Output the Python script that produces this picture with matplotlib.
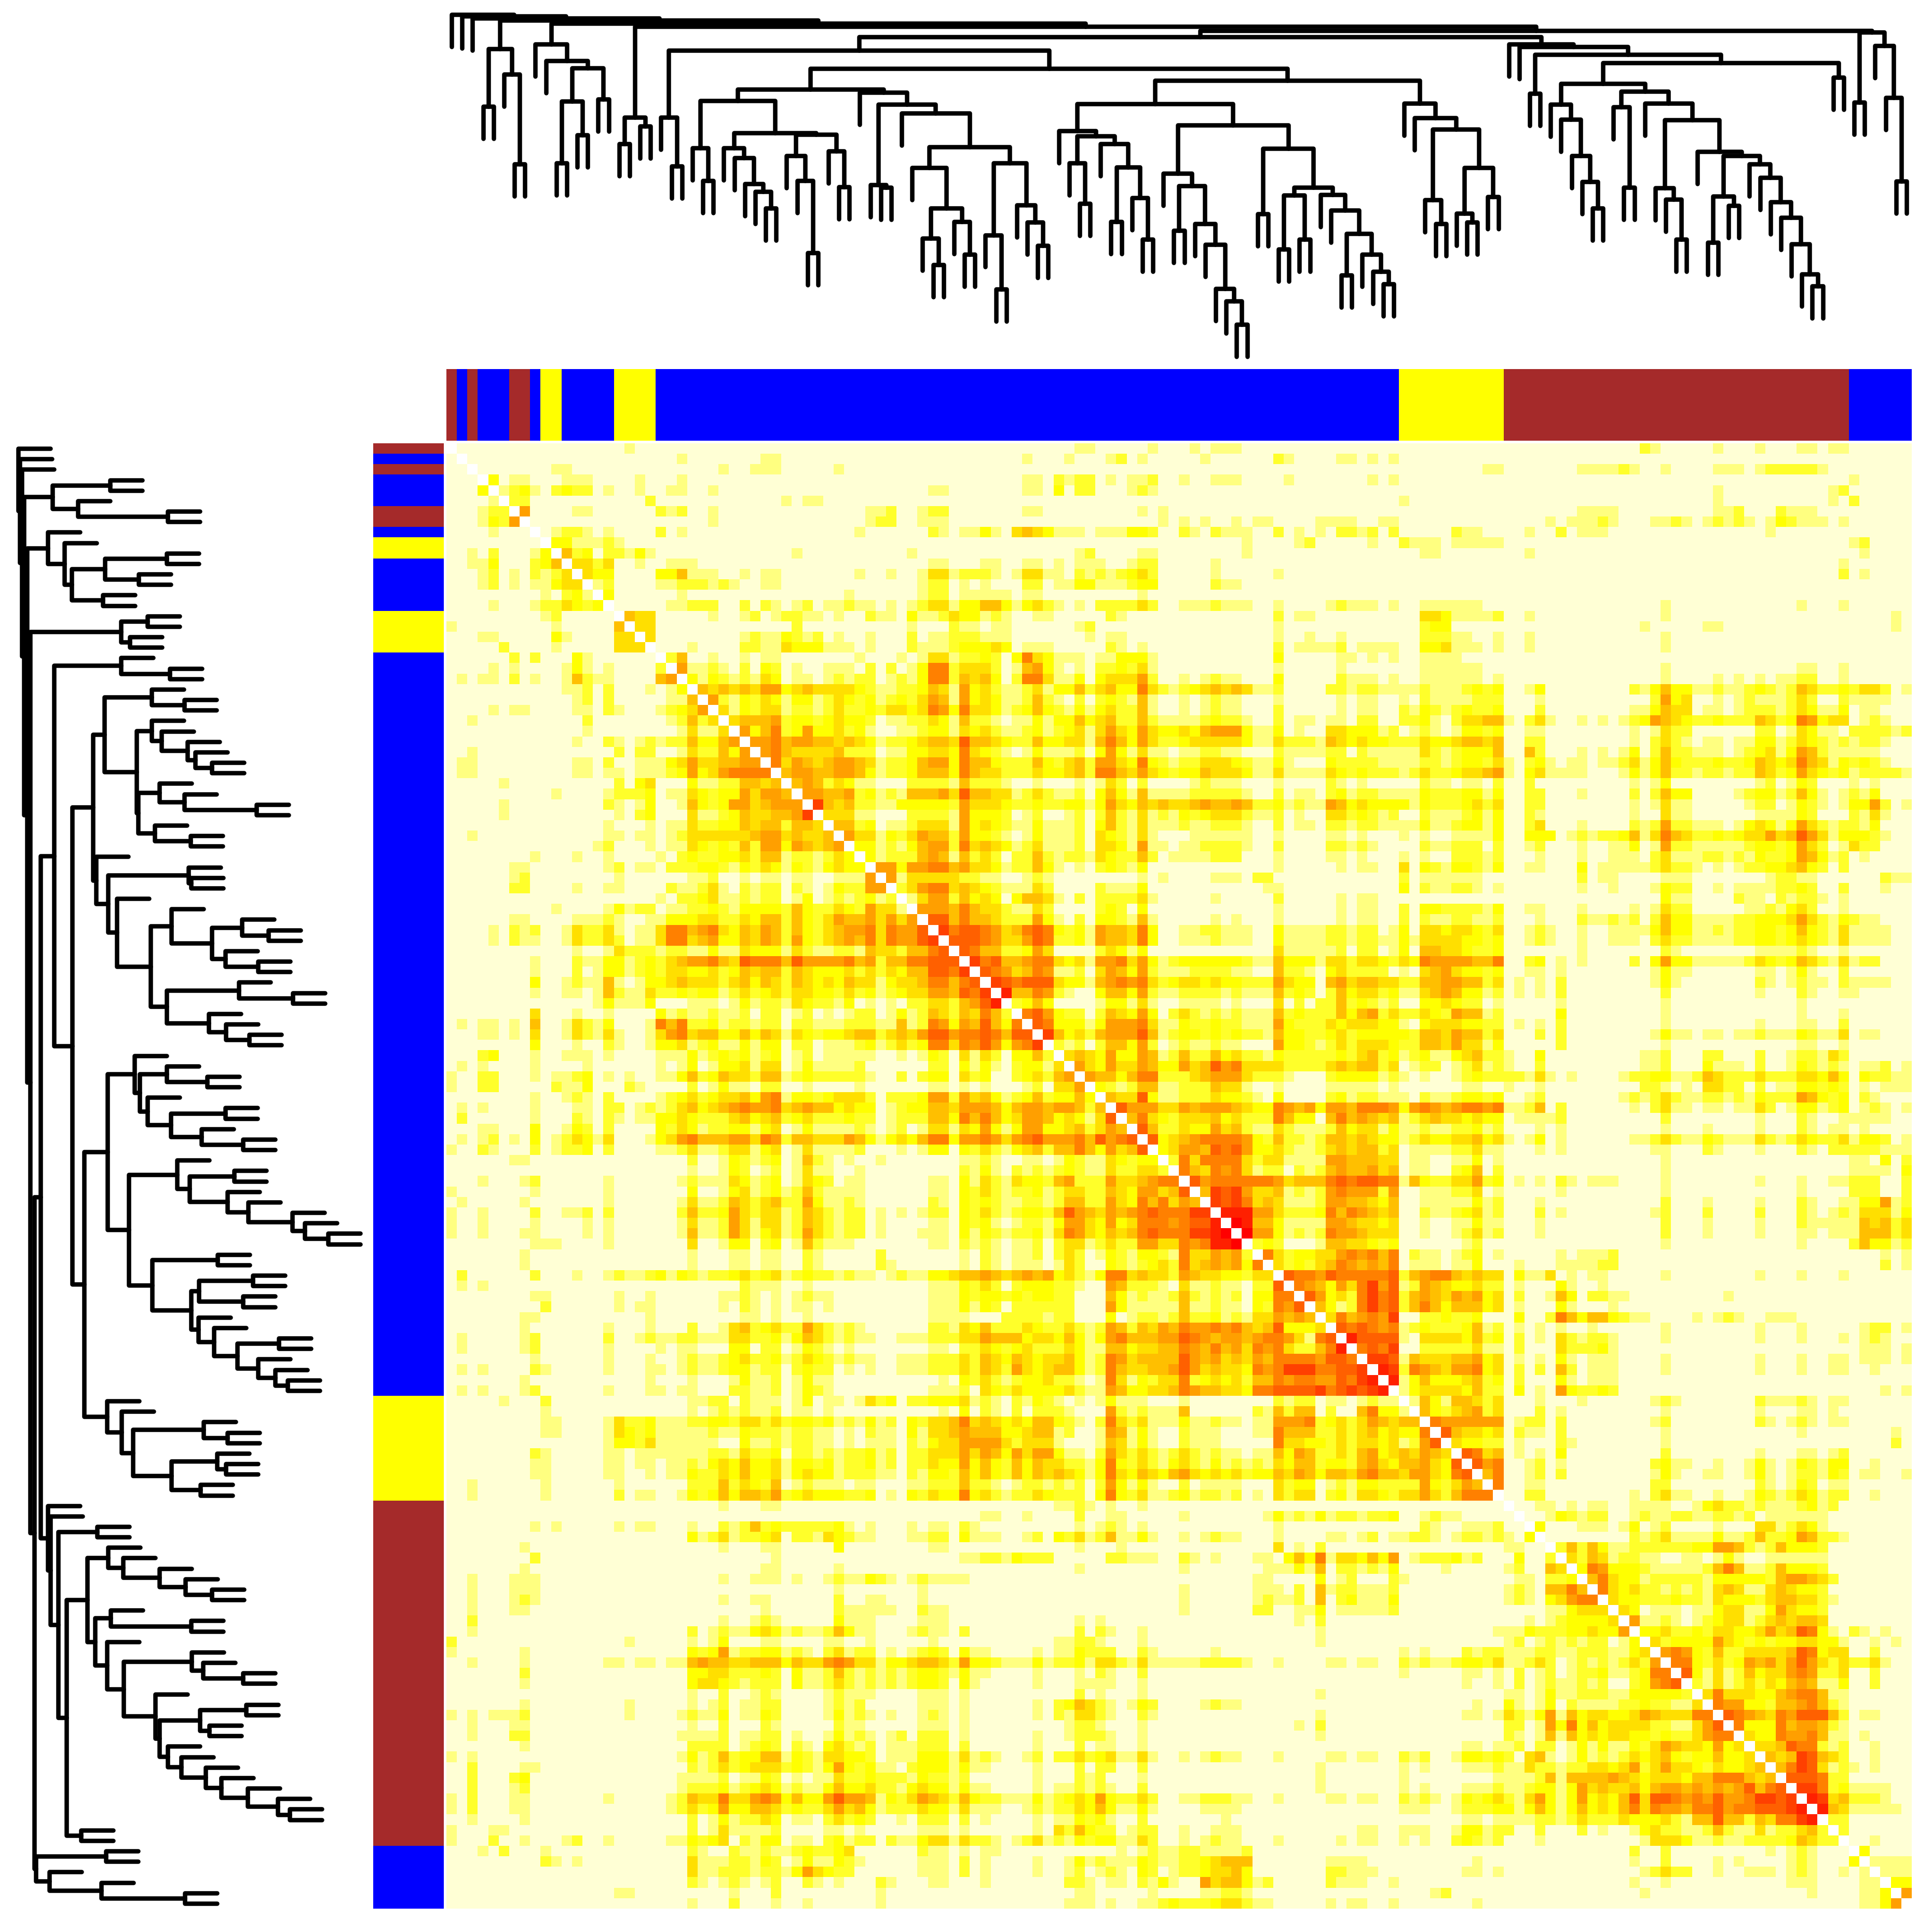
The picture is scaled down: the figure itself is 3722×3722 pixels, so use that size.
import numpy as np
import matplotlib
matplotlib.use("Agg")
import matplotlib.pyplot as plt
from matplotlib.colors import ListedColormap, BoundaryNorm

SIZE = 3723.0
N = 140

# colour levels of the heat map (0 = lowest .. b = highest); diagonal is blank
level_colors = ["#FFFFD5", "#FFFF80", "#FFFF2A", "#FFFF00", "#FFDF00", "#FFBF00",
                "#FF9F00", "#FF8000", "#FF6000", "#FF4000", "#FF2000", "#FF0000"]

# side annotation: runs of samples in leaf order
group_names = ["brown", "blue", "brown", "blue", "brown", "blue", "yellow", "blue",
               "yellow", "blue", "yellow", "brown", "blue"]
group_sizes = [1, 1, 1, 3, 2, 1, 2, 5, 4, 71, 10, 33, 6]

# dendrogram: (depth, left, right); 0 is a leaf
L = 0
A = (165, (358, L, L), (250, L, (552, L, L)))
B = (150, L, (205, L, (230, (342, (548, L, L), (455, L, L)), (335, L, L))))
C = (395, (485, L, L), (425, L, L))
mid1 = (395, L, (560, L, L))
m_a = (498, L, (608, L, L))
m_b = (498, L, (532, L, (618, L, (645, L, (700, L, L)))))
m_c = (525, L, (608, L, (850, L, L)))
m_d = (508, L, (628, L, L))
m1 = (340, m_a, (447, m_b, (453, m_c, m_d)))
n700 = (700, (802, L, (890, L, L)), (745, L, (855, L, L)))
n548 = (548, (790, L, (972, L, L)), (690, L, (747, L, (825, L, L))))
n495 = (495, (565, L, n700), n548)
n352 = (352, (622, L, (630, L, L)), (382, L, n495))
n302 = (302, m1, (312, L, n352))
n440 = (440, L, (458, (548, L, (685, L, L)),
                 (485, L, (562, (745, L, L), (665, L, (805, L, L))))))
n583 = (583, L, (625, (775, L, L), (752, L, (822, L, (970, L, (1012, L, (1090, L, L)))))))
n500 = (500, (720, L, L),
        (630, (657, (838, L, L), (805, L, L)),
         (655, L, (708, L, (785, (925, L, L), (855, L, (912, L, (955, L, L))))))))
n350 = (350, n440, (422, n583, n500))
n348 = (348, L, (398, L, (435, (672, L, (752, L, L)),
                          (565, (718, L, (748, L, L)), (662, L, L)))))
n170 = (170, mid1, (232, n302, (272, n350, n348)))
b105 = (352, L, (402, L, (525, L, (612, L, (700, L, L)))))
b111 = (360, L, (630, L, L))
n525 = (525, (660, (815, L, L), (692, L, L)),
        (552, L, (598, L, (680, L, (732, L, (820, L, (922, L, (962, L, L))))))))
n405 = (405, (632, L, (670, L, (805, L, L))), (510, L, n525))
n282 = (282, b105, (308, b111, (348, L, n405)))
n150 = (150, L, (158, L, (185, (315, L, L), (212, n282, (262, L, L)))))
n8 = (125, n170, n150)
n9 = (110, (345, L, L), (155, L, (330, L, (610, L, L))))
tree = (50, L, (55, L, (63, L, (70, A, (80, B, (90, C, (105, n8, n9)))))))
leaf_hang = 108

# upper triangle of the matrix; each row starts right of the diagonal and is
# grouped on decades of the column number; "_" is a decade of level 0
rows = """
000000000 0000000100 _ _ _ _ 1100000100 0101110000 _ _ _ 0000210000 0100010001 1011
00000000 _ 0010000000 1100000000 _ 0000010001 0001201000 0010000002 1000011010 1
0000000 1100000000 0000001001 1100000100 _ _ _ _ _ 0000000001 1000000011 1121001000 0111012222 21
301100 0111000010 0010000000 _ _ 0000011021 2201011200 1001110000 1000000010 1 _ _ _ 0000100000
12310 2322010010 0110010000 _ 0000001100 0000011030 2200012100 _ _ _ _ _ 0100000000 0012
2200 0000000002 _ 0010110000 _ _ _ _ _ 01 _ _ 01 0010200
600 0011000000 2120010000 _ 1120012200 0000011000 0000001010 _ _ _ 0000000011 11 0112000211 1
00 _ 0000010000 _ 1220011100 _ 0000000010 1010010110 0001111001 1 0000010111 2100011210 1212101321 1101
0 1221010000 2010000000 0000000001 0000002101 1310454311 1011133200 2102111002 0101022120 2000002110 0001002011 1 0000001
3311121000 _ _ _ _ _ 0000001000 0120000010 0211101111 1 _ _ 0000120
523022131 _ 0001 00001 _ 1200001100 0000001 _ 0001100000 0001 _ _ 0000010
44240010 0111000000 _ 0000001100 0110011010 1110012200 0001 _ _ _ _ _ 0001
4330000 3351110010 1100000001 0010014412 2210144110 2121234200 0001000001 _ _ _ _ _ 0002010
120000 1122212100 11 0000012201 0100022011 3311123300 0002110000
30000 0010 0000000010 0000012201 1111011000 0000001
0000 0112220020 2101201121 1010124413 3553134210 1022224200 1112111001 0000121110 1001111110 _ 0000001 0000000001 0001
544 0000010012 0122110100 2110311243 3121001100 0002100000 0000000002 011 0004431111 2001000000 0000001 _ 000000001
44 _ 0002 0000100021 1011 12 0000000001 _ 0002330000 _ 00001 11 000000001
4 0000000012 1132120100 1000201122 2111 0101100000 0000000001 0010010000 0002221100 1001000000 0000001
0001000022 1143331110 1000211123 3343011100 0002101000 0000000002 0111120111 1003341110 1001 0000001
250010010 1100000001 0001014412 2320374311 1011333100 0000000003 0000011010 1001111000
61121020 3201001110 2020137724 4420156310 1022324100 0000000001 0000010 0001111110 _ 0000001 0000000001 1001
3132121 4301101212 2012137725 4530277411 3034446200 1012110003 0000021110 1001111110 1 0000001 0101010112 2001
545454 6634544443 2112235416 3421124133 5245337421 2345454112 0000221221 1112111232 3001300000 0002135331 1211232125 4223244201
62132 4313312432 3123246516 3431125210 2023215100 1012110001 0000010110 0102111122 2000100000 0000026340 0101211124 2002111100
4132 4412212422 3244347637 4431235321 3134225100 1012110002 0000010110 0213212322 3000200000 0001135440 1101222124 3113011
455 5623323433 2011224315 2210113133 5345225211 1123221002 0110110220 0223102445 5102410010 1012365432 2322254237 6344012100
63 5723633423 1001123314 3421123123 4146436433 4356663113 0100443331 2012101332 3001100000 0001014220 0000022014 3110222212
6 6756655454 3122345548 5543225334 4157536422 3444443114 2221543433 2224334554 5002200000 0001024210 1101133124 3212122100
6754444522 2011334437 4321013111 2036314110 1122110002 1111220211 1114212333 5005200010 1013025221 1101234136 5211111
746545665 4122356637 5532225324 5266437321 2244432113 1000322221 1112212332 4102310110 1124135322 2322354347 5413232100
56655665 3122355537 5442224334 5277546432 3354443114 1111432322 2124223445 6103411110 0013135221 2212254236 4323122221
5652431 1000222215 2221001000 1014202000 0121110001 0000210100 0002110110 2002 0001013000 0000012013 2000101
665562 3121555648 5544124211 2035315111 1222221002 0110231221 1113222331 3002200010 0002025330 0001233125 3101213
95452 2113333326 4443223223 3136435454 4565565223 1211653433 3313222342 4002200000 0001014110 0000122013 2101336201
4441 1000222216 3332012001 2025214121 3234442112 0100442321 2002111231 3002100000 0001004110 0000011113 2000214100
552 3011244416 3432113111 2035214111 2112221002 0110221221 1113112331 3002400010 0002126221 1101343136 4212213
64 4132465526 3321013111 2043214100 0111111001 0000110100 0101001111 3003330121 2235147542 2323446458 6413332100
3 3121356627 4543124111 2044316110 1122221002 0000221210 0002112220 2001200010 0113016221 1111233236 4201422
3122256515 2420225212 2143225201 1112220001 0000110100 0101002221 2000100010 0111024111 2212132236 5312010
663667756 4431225310 1023213000 0000000001 0000010110 0403213321 3001100030 1111124221 0101223345 3202
61444442 2110012100 0000001010 0001110220 _ 0201111110 0000000020 1100001110 0000001221 1000000211
2467745 4321114200 0021113000 0000000011 _ 0302112210 1000000010 0100013220 0101111223 2002000100
146625 3430355410 2022224100 0001000002 0000010110 _ _ 0000003110 0002110212 2101
66657 5442114200 0023203000 0000000001 0000010110 0203322221 3001100010 0001014220 0000112134 2001
8857 5542226310 2033215100 0001010001 0000010110 0202112211 2000100021 1212025331 1112233346 4213211
978 8764578732 3165547300 1122111003 1111221220 1304434432 4001210010 0111135331 1212233235 3214111100
88 8764468722 3165547300 1112111003 1111221221 1314444332 3001210010 0111024221 1112233234 3214111100
8 7552236400 0024313000 0000000004 1111120220 1305544322 3000000010 0000002100 0000011112 1001
9785567743 4166746312 3333332115 3331442443 2437666655 7002301010 0002036331 1111243235 4214122
876457611 2046536211 1222211005 2210342222 0104564332 3001101000 0000013110 0000011013 1002
98788843 3156767423 4434332226 4330564554 4225566552 4010102000 0000013100 0000021012 1102111100
a557621 0035536211 2222121115 2320253442 3114565331 2010102000 0000002 0000010002 1001100
235300 0013314100 1111010004 0202252321 2003343220 1000001000 0000001 0000000001
78632 2025436302 4212121115 2322253562 4224326551 2000003000 0000001 0000000001 0001
8733 3136667411 3223221116 3222434443 3103444332 2010102000 0000001 0000010001 1002
953 4256668512 3323232215 3322342333 3325546552 4000202000 0000013110 1101121113 2114011
21 2025536201 2112110006 3321242444 3225546441 3000002 0000001 0000000001 1001
4 5436336512 5225342213 2222232452 3123113452 2100300000 0000112000 2200020012 2142
6436446533 6458674444 2222454552 4012201241 2100200000 0000112000 3111020013 2121011201
655357722 2456664222 1000233331 2101001232 2221410100 0012233112 5422242224 4353032211
32125511 2225441001 0000111110 1000000110 0100100000 0000221010 4422020113 3232010111
5448311 2224332103 0000231221 1102112332 3001200000 0012124211 2212132226 5323021
866644 6566654337 6563665777 6367656776 7112502000 0001024110 1101142013 3123012101
57432 4445342227 5330575654 5124544343 3011112000 0000002 0000010002 1001111100
8522 4336452114 2111253441 3112112231 2000101000 0000001 1000010002 1011010
834 5677776325 2212554543 3124334453 4101301000 0001124211 3211142124 3224133201
34 6658786334 2112454552 4011112241 1000101000 0000011 2100010002 1022222111
2 7477774244 1111665554 4011001130 1000000000 0000001 _ 0000110302
7547674122 0212565564 5011002350 2 0000001 _ 0000111103
867777776 4555787887 7153224462 3010102101 1100001 0000010001 0011222002
59896445 1212676662 6001112240 1000001000 0000001 0000000001 0000222002
9897454 1112665543 5001111131 2000100000 0000002 1000010002 1001133612
aaa664 2223757654 5002112341 2000201000 0000012 2000020002 1012144413
ba553 1111665443 4001001131 1000100000 0000002 1000010002 1111154524
b663 1212766544 4001001241 2000100000 0000002 1000010001 1011155524
232 0001554432 3000000120 _ 0000001 0000000001 0000253312
74 2334467675 7021101230 1000001011 1200000000 _ 0000000101
4 2324576565 7011101130 0010001111 22 _ 0000000201
8776877777 8256775454 4031140101 1000001 0000010001 0001
765364796 8126543342 2010003100 1
86342797 8256546563 4020015302 211 001
5312797 8257535553 4010003100 01
475676 9002232230 0030027535 5321100001 0121001110
87876 7123222351 2010101001 0000001 0000010001 0000012201
a888 8104444352 3020104212 2100001 0000010001 00010121
787 9002222241 1020004222 31 _ 0000011101
99 8154445563 4010103101 1100001 0000010001 0011011101
a 9276546673 4020205201 1100001 0000010001 00110010
a135333452 3020003101 11
134444352 2030106322 32 _ 0000000101
15315542 4000100010 0000012100 0000021112 1011
5324562 4000201000 0000001 0000010001 1010
766666 6012202000 0000012 0000021012 1011
85443 4021102 0000001 0000000001 000000001
4332 2010002100 0000001 _ 000000002
874 5010103 0000002 0000010001 1012
86 7001201 0000023110 0100131013 2133001
5 7001202 0000013100 1100131012 2132011001
7001100000 0000022 0000021013 2011
002200000 0001024110 0100132124 3122001
00110101 1001111001 3422121112 312
0013212 2001211221 1221201111 11
300011 1013012 0100044124 31
00000 0002124111 1311252236 5221
2525 3112222223 3665212533 32
425 4122110011 0131001111 11
37 6333211111 2575112533 32
5 7433122222 1333332566 542
7434221212 1454114543 32
433222322 1433324554 421
43011101 1344113643 32
6112101 2344124545 54
334223 2443346458 73102101
42333 3643232334 433100101
6763 2522444458 7344002
773 2423656468 64242241
83 1412534467 6224002
2 1412424356 5113002
4744433567 7511
766332556 7521
87654768 8852011
7333756 6521
433766 7511010
44587 7212001
5459 8542001
579 8412101
88 8722
9 97231111
a9452221
a5411111
22
2
001
3
1111
111
33
6
""".split("\n")[1:-1]


def parse_matrix(lines):
    m = np.full((N, N), np.nan)
    for i, line in enumerate(lines):
        pos = i + 1
        for grp in line.split():
            want = 10 - pos % 10
            if grp == "_":
                grp = "0" * want
            grp = grp.ljust(want, "0")[:want]
            for ch in grp:
                if pos < N:
                    m[i, pos] = m[pos, i] = int(ch, 16)
                pos += 1
        while pos < N:
            m[i, pos] = m[pos, i] = 0
            pos += 1
    return m


matrix = parse_matrix(rows)


def rect(x0, y0, x1, y1):
    return [x0 / SIZE, 1 - y1 / SIZE, (x1 - x0) / SIZE, (y1 - y0) / SIZE]


fig = plt.figure(figsize=(SIZE / 100, SIZE / 100), dpi=100, facecolor="white")

HX0, HX1, HY0, HY1 = 860, 3683, 855, 3678

# heat map
ax = fig.add_axes(rect(HX0, HY0, HX1, HY1))
cmap = ListedColormap(level_colors)
cmap.set_bad("white")
norm = BoundaryNorm(np.arange(-0.5, 12.5), 12)
ax.imshow(np.ma.masked_invalid(matrix), cmap=cmap, norm=norm, aspect="auto",
          interpolation="nearest", extent=(0, N, N, 0))
ax.axis("off")

# side bars
name_list = sorted(set(group_names))
side_cmap = ListedColormap([{"blue": "#0000FF", "brown": "#A52A2A", "yellow": "#FFFF00"}[n]
                            for n in name_list])
codes = np.concatenate([[name_list.index(n)] * s for n, s in zip(group_names, group_sizes)])

ax_top = fig.add_axes(rect(HX0, 712, HX1, 850))
ax_top.imshow(codes[None, :], cmap=side_cmap, aspect="auto", interpolation="nearest",
              vmin=0, vmax=2, extent=(0, N, 1, 0))
ax_top.axis("off")

ax_left = fig.add_axes(rect(719, HY0, 855, HY1))
ax_left.imshow(codes[:, None], cmap=side_cmap, aspect="auto", interpolation="nearest",
               vmin=0, vmax=2, extent=(0, 1, N, 0))
ax_left.axis("off")


def collect(node, paths, counter):
    depth, left, right = node
    ends = []
    for child in (left, right):
        if child == L:
            pos = counter[0] + 0.5
            counter[0] += 1
            ends.append((pos, depth + leaf_hang))
        else:
            pos = collect(child, paths, counter)
            ends.append((pos, child[0]))
    paths.append(([ends[0][0], ends[0][0], ends[1][0], ends[1][0]],
                  [ends[0][1], depth, depth, ends[1][1]]))
    return (ends[0][0] + ends[1][0]) / 2


paths = []
counter = [0]
collect(tree, paths, counter)

DEPTH_SCALE = 1.742  # depth units per pixel
lw = 8.5 * 72 / 100
style = dict(color="black", lw=lw, solid_capstyle="round", solid_joinstyle="round")

ax_dt = fig.add_axes(rect(HX0, 0, HX1, 705))
for xs, ds in paths:
    ax_dt.plot(xs, ds, **style)
ax_dt.set_xlim(0, N)
ax_dt.set_ylim(705 * DEPTH_SCALE, 0)
ax_dt.axis("off")

LEFT_OFFSET = 6
ax_dl = fig.add_axes(rect(0, HY0, 712, HY1))
for xs, ds in paths:
    ax_dl.plot(ds, xs, **style)
ax_dl.set_ylim(N, 0)
ax_dl.set_xlim(-LEFT_OFFSET * DEPTH_SCALE, (712 - LEFT_OFFSET) * DEPTH_SCALE)
ax_dl.axis("off")
for a in (ax_dl, ax_dt):
    for ln in a.lines:
        ln.set_clip_on(False)

fig.savefig("out.png", dpi=100, facecolor="white")
